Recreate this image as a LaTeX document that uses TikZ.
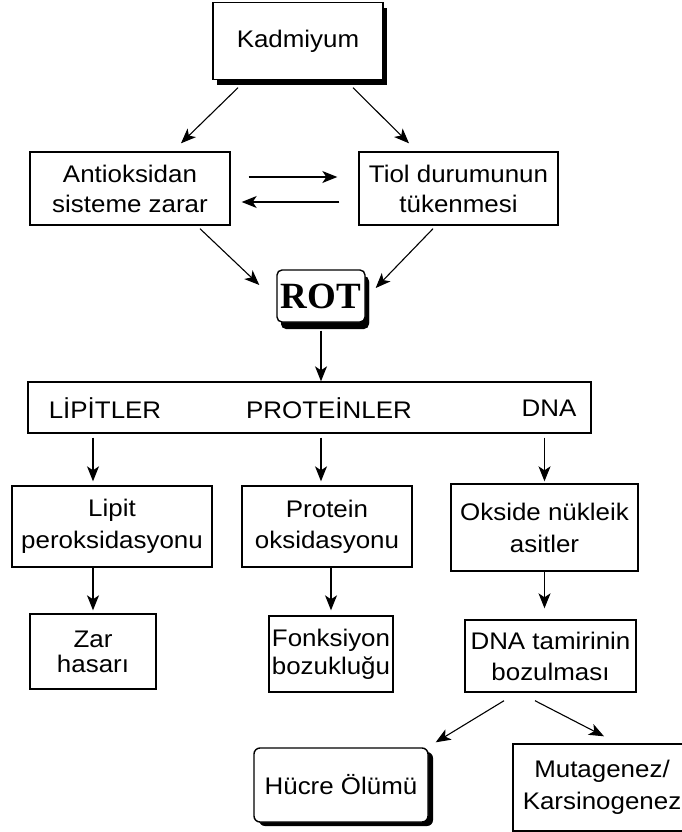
\documentclass[tikz,border=0pt]{standalone}
\usepackage{fontspec}
\setmainfont{Liberation Sans}[FakeStretch=1.08]
\newfontfamily\rotfont{Liberation Serif}
\usetikzlibrary{arrows.meta,shadows}

\begin{document}
\begin{tikzpicture}[x=1pt,y=-1pt,
  txt/.style={font=\fontsize{24}{30}\selectfont},
  box/.style={draw, line width=1.4pt, fill=white, align=center, inner sep=0pt, txt},
  sbox/.style={box, drop shadow={shadow xshift=4pt, shadow yshift=-6pt, fill=black, opacity=1}},
  arr/.style={line width=1.1pt, -{Stealth[length=15pt,width=12pt,inset=4pt]}},
  lbl/.style={inner sep=0pt, txt}]

\useasboundingbox[fill=white] (0,0) rectangle (682,832);

% top of the cascade
\node[sbox, minimum width=170pt, minimum height=77pt] (kad) at (298,41) {Kadmiyum};
\node[box, minimum width=200pt, minimum height=73pt] (anti) at (130,188.5) {Antioksidan\\sisteme zarar};
\node[box, minimum width=199pt, minimum height=73pt] (tiol) at (458.5,188.5) {Tiol durumunun\\tükenmesi};
\node[sbox, rounded corners=5pt, minimum width=88pt, minimum height=52pt,
      drop shadow={shadow xshift=4pt, shadow yshift=-7pt, fill=black, opacity=1},
      font=\rotfont\bfseries\fontsize{37}{37}\selectfont] (rot) at (321,296) {ROT};

% targets
\node[box, minimum width=563pt, minimum height=51pt] (row) at (309.5,407.5) {};
\node[lbl] (lip) at (105,408) {LİPİTLER};
\node[lbl] (pro) at (329,408) {PROTEİNLER};
\node[lbl] (dna) at (549,408) {DNA};

% damage
\node[box, minimum width=200pt, minimum height=81pt, font=\fontsize{24}{32}\selectfont] (lipit) at (112,526.5) {Lipit\\peroksidasyonu};
\node[box, minimum width=170pt, minimum height=81pt, font=\fontsize{24}{31}\selectfont] (prot) at (327,526.5) {Protein\\oksidasyonu};
\node[box, minimum width=187pt, minimum height=87pt, font=\fontsize{24}{32}\selectfont] (oks) at (544.5,527.5) {Okside nükleik\\asitler};

% consequences
\node[box, minimum width=126pt, minimum height=75pt, font=\fontsize{24}{25}\selectfont] (zar) at (93,651.5) {Zar\\hasarı};
\node[box, minimum width=124pt, minimum height=76pt, font=\fontsize{24}{28}\selectfont] (fonk) at (331,654) {Fonksiyon\\bozukluğu};
\node[box, minimum width=171pt, minimum height=72pt, font=\fontsize{24}{31}\selectfont] (tamir) at (550.5,656) {DNA tamirinin\\bozulması};
\node[box, rounded corners=6pt, minimum width=174pt, minimum height=74pt,
      drop shadow={shadow xshift=5pt, shadow yshift=-4pt, fill=black, opacity=1}] (hucre) at (341,785) {Hücre Ölümü};
\node[box, minimum width=178pt, minimum height=87pt, font=\fontsize{24}{32}\selectfont] (muta) at (602,787.5) {Mutagenez/\\Karsinogenez};

% connectors
\draw[arr] ([xshift=-60pt,yshift=-7.5pt]kad.south) -- ([xshift=51pt,yshift=8pt]anti.north);
\draw[arr] ([xshift=55pt,yshift=-7.5pt]kad.south) -- ([xshift=-49.5pt,yshift=8pt]tiol.north);
\draw[arr] ([xshift=18pt,yshift=11.5pt]anti.east) -- ([xshift=-21pt,yshift=11.5pt]tiol.west);
\draw[arr] ([xshift=-19pt,yshift=-13.5pt]tiol.west) -- ([xshift=11pt,yshift=-13.5pt]anti.east);
\draw[arr] ([xshift=70pt,yshift=-3pt]anti.south) -- ([xshift=-17pt,yshift=11pt]rot.west);
\draw[arr] ([xshift=-25.5pt,yshift=-3pt]tiol.south) -- ([xshift=10pt,yshift=8pt]rot.east);
\draw[arr] ([yshift=-8pt]rot.south) -- (rot.south |- row.north);

\draw[arr] ([yshift=-4pt]row.south -| zar.north) -- ([yshift=4pt]lipit.north -| zar.north);
\draw[arr] ([yshift=-4pt]row.south -| rot.south) -- ([yshift=4pt]prot.north -| rot.south);
\draw[arr] ([yshift=-4pt]row.south -| oks.north) -- ([yshift=2pt]oks.north);

\draw[arr] (lipit.south -| zar.north) -- ([yshift=3pt]zar.north);
\draw[arr] (prot.south -| fonk.north) -- ([yshift=5pt]fonk.north);
\draw[arr] (oks.south) -- ([yshift=11pt]tamir.north -| oks.south);

\draw[arr] ([xshift=-46.5pt,yshift=-8pt]tamir.south) -- ([xshift=7pt,yshift=5pt]hucre.north east);
\draw[arr] ([xshift=-15.5pt,yshift=-8pt]tamir.south) -- ([xshift=2pt,yshift=7pt]muta.north);
\end{tikzpicture}
\end{document}
